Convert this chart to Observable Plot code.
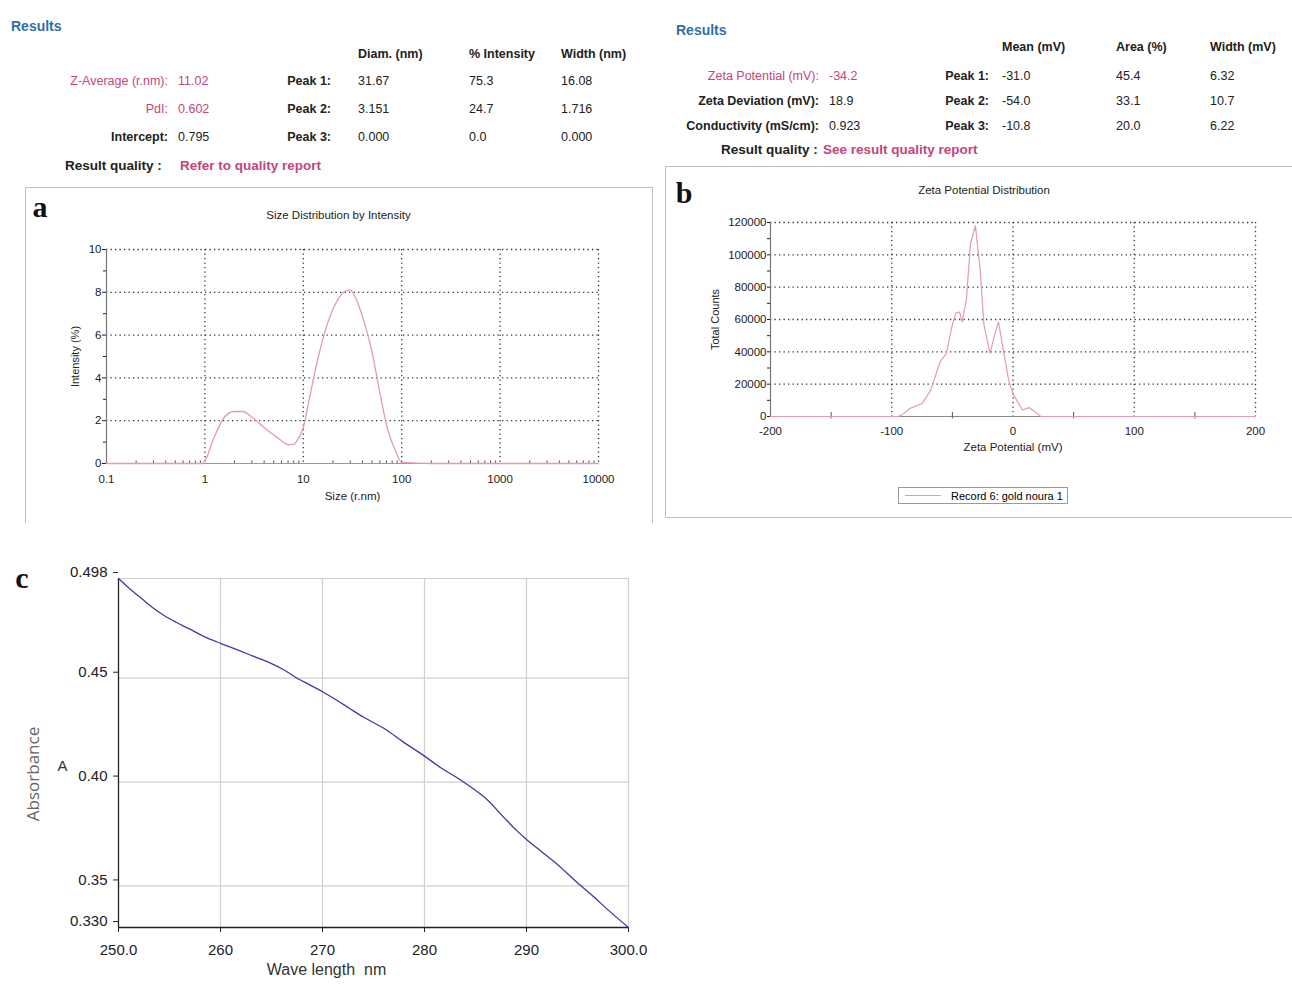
<!DOCTYPE html>
<html>
<head>
<meta charset="utf-8">
<script src="https://cdn.jsdelivr.net/npm/d3@7"></script>
<script src="https://cdn.jsdelivr.net/npm/@observablehq/plot@0.6"></script>
<style>
  html, body { margin: 0; padding: 0; background: #fff; }
  #page { position: relative; width: 1292px; height: 985px; overflow: hidden; font-family: "Liberation Sans", Arial, sans-serif; }
  .t { position: absolute; white-space: nowrap; font-size: 12.5px; color: #222; transform: translateY(-50%); line-height: 1; }
  .r { transform: translate(-100%, -50%); }
  .b { font-weight: bold; }
  .pk { color: #c2467c; }
  .hd { color: #2f6fa8; font-weight: bold; font-size: 14px; }
  .rq { font-size: 13.5px; font-weight: bold; }
  .lt { position: absolute; font-family: "Liberation Serif", "Times New Roman", serif; font-weight: bold; font-size: 30px; line-height: 1; transform: translate(-50%, -50%); color: #111; }
  .box { position: absolute; border-color: #b9c0cc; border-style: solid; border-width: 0; }
  .plot { position: absolute; }
</style>
</head>
<body>
<div id="page"></div>
<script>
// ---------- data ----------
// Panel a: size distribution by intensity
const sizeNm    = [0.1, 0.5, 0.95, 1.0, 1.24, 1.57, 1.98, 2.41, 3.04, 3.99, 5.45, 7.14, 8.0, 9.0, 10, 11.4, 13.9, 17.5, 22, 26.8, 30.1, 35, 41, 50, 60, 72, 88, 100, 200, 1000, 10000];
const intensity = [0, 0, 0, 0.12, 1.21, 2.15, 2.43, 2.43, 2.15, 1.68, 1.21, 0.87, 0.9, 1.21, 1.68, 2.92, 4.79, 6.5, 7.59, 8.06, 8.1, 7.6, 6.7, 5.2, 3.3, 1.6, 0.5, 0.05, 0, 0, 0];
const sizeTicks = [0.1, 1, 10, 100, 1000, 10000];
const intensityTicks = [0, 2, 4, 6, 8, 10];
const intensityMinor = [1, 3, 5, 7, 9];

// Panel b: zeta potential distribution
const zetaMv = [-200, -95, -91.7, -85, -75, -68, -60, -55, -50, -47, -44, -42, -38.5, -35, -31, -27, -24, -19, -15, -12, -7, -3.6, 0, 4.6, 8, 13, 18, 23, 200];
const totalCounts = [0, 0, 1000, 5000, 8000, 16000, 34000, 39000, 57000, 64000, 64600, 58500, 72000, 107000, 118000, 90000, 57000, 39000, 51000, 58500, 37000, 22500, 14000, 8000, 4000, 5500, 3000, 0, 0];
const zetaTicks = [-200, -100, 0, 100, 200];
const zetaMinor = [-150, -50, 50, 150];
const countTicks = [0, 20000, 40000, 60000, 80000, 100000, 120000];
const countMinor = [10000, 30000, 50000, 70000, 90000, 110000];

// Panel c: absorbance spectrum
const wavelength = [250, 251.1, 252.3, 253.3, 254.4, 255.7, 257, 258.3, 260, 261.6, 263.2, 264.9, 266.2, 267.5, 268.8, 270, 271.4, 272.7, 274, 276.2, 277.8, 280, 281.6, 283.2, 284.4, 286.1, 287.8, 289.1, 290, 291.6, 293.2, 294.8, 296.5, 298.1, 300];
const absorbance = [0.498, 0.4931, 0.4882, 0.4842, 0.4804, 0.4768, 0.4736, 0.4703, 0.4668, 0.4638, 0.4606, 0.4573, 0.4541, 0.4500, 0.4467, 0.4435, 0.4394, 0.4353, 0.4313, 0.4253, 0.4197, 0.4125, 0.4069, 0.4021, 0.3981, 0.3917, 0.3829, 0.3764, 0.3724, 0.3660, 0.3596, 0.3524, 0.3452, 0.3380, 0.330];
const wlTicks = [250, 260, 270, 280, 290, 300];
const wlLabels = ["250.0", "260", "270", "280", "290", "300.0"];
const absTicks = [0.330, 0.35, 0.40, 0.45, 0.498];
const absLabels = ["0.330", "0.35", "0.40", "0.45", "0.498"];

// Results tables
const sizeHeaders = ["Diam. (nm)", "% Intensity", "Width (nm)"];
const sizeRowLabels = ["Z-Average (r.nm):", "PdI:", "Intercept:"];
const sizeRowValues = ["11.02", "0.602", "0.795"];
const sizePeakNames = ["Peak 1:", "Peak 2:", "Peak 3:"];
const sizePeaks = [["31.67", "75.3", "16.08"], ["3.151", "24.7", "1.716"], ["0.000", "0.0", "0.000"]];
const zetaHeaders = ["Mean (mV)", "Area (%)", "Width (mV)"];
const zetaRowLabels = ["Zeta Potential (mV):", "Zeta Deviation (mV):", "Conductivity (mS/cm):"];
const zetaRowValues = ["-34.2", "18.9", "0.923"];
const zetaPeaks = [["-31.0", "45.4", "6.32"], ["-54.0", "33.1", "10.7"], ["-10.8", "20.0", "6.22"]];

// ---------- helpers ----------
const page = document.getElementById("page");
function txt(x, y, s, cls) {
  const d = document.createElement("div");
  d.className = "t " + (cls || "");
  d.style.left = x + "px"; d.style.top = y + "px";
  d.textContent = s;
  page.appendChild(d);
  return d;
}
function box(l, t, w, h, sides) {
  const d = document.createElement("div");
  d.className = "box";
  d.style.left = l + "px"; d.style.top = t + "px"; d.style.width = w + "px"; d.style.height = h + "px";
  for (const s of sides) d.style["border" + s + "Width"] = "1.5px";
  page.appendChild(d);
}
function letter(x, y, s) {
  const d = document.createElement("div");
  d.className = "lt"; d.style.left = x + "px"; d.style.top = y + "px"; d.textContent = s;
  page.appendChild(d);
}
function place(svg, left, top) {
  svg.classList.add("plot");
  svg.style.left = left + "px"; svg.style.top = top + "px";
  page.appendChild(svg);
}

// ---------- results tables ----------
txt(11, 26, "Results", "hd");
const colA = [358, 469, 561];
sizeHeaders.forEach((h, i) => txt(colA[i], 54, h, "b"));
const rowYA = [81, 109, 137];
sizeRowLabels.forEach((l, i) => {
  const pink = i < 2;
  txt(168, rowYA[i], l, "r " + (pink ? "pk" : "b"));
  txt(178, rowYA[i], sizeRowValues[i], pink ? "pk" : "");
  txt(331, rowYA[i], sizePeakNames[i], "r b");
  sizePeaks[i].forEach((v, j) => txt(colA[j], rowYA[i], v, ""));
});
txt(65, 166, "Result quality :", "rq");
txt(180, 166, "Refer to quality report", "rq pk");

txt(676, 30, "Results", "hd");
const colB = [1002, 1116, 1210];
zetaHeaders.forEach((h, i) => txt(colB[i], 47, h, "b"));
const rowYB = [76, 101, 126];
zetaRowLabels.forEach((l, i) => {
  const pink = i === 0;
  txt(819, rowYB[i], l, "r " + (pink ? "pk" : "b"));
  txt(829, rowYB[i], zetaRowValues[i], pink ? "pk" : "");
  txt(989, rowYB[i], sizePeakNames[i], "r b");
  zetaPeaks[i].forEach((v, j) => txt(colB[j], rowYB[i], v, ""));
});
txt(721, 150, "Result quality :", "rq");
txt(823, 150, "See result quality report", "rq pk");

// frames
box(25, 187, 626, 335, ["Top", "Left", "Right"]);
box(665, 166, 640, 350, ["Top", "Left", "Bottom"]);

const baseStyle = { fontFamily: "Liberation Sans, Arial, sans-serif", fontSize: "11.5px", background: "transparent", overflow: "visible", color: "#222" };
const dotted = { stroke: "#333", strokeWidth: 1.3, strokeDasharray: "1.3,3.2" };
const pinkLine = "#e49bb2";

// ---------- panel a ----------
const plotA = Plot.plot({
  width: 626, height: 332,
  marginLeft: 81, marginRight: 53, marginTop: 61, marginBottom: 57,
  style: baseStyle,
  x: { type: "log", domain: [0.1, 10000] },
  y: { domain: [0, 10] },
  marks: [
    Plot.ruleX(sizeTicks.slice(1), { x: d => d, ...dotted }),
    Plot.ruleY(intensityTicks.slice(1), { y: d => d, ...dotted }),
    Plot.ruleX([0.1], { stroke: "#777", strokeWidth: 1.2 }),
    Plot.ruleY([0], { stroke: "#999", strokeWidth: 1.2 }),
    Plot.ruleX(d3.range(-1, 4).flatMap(e => d3.range(2, 10).map(m => m * Math.pow(10, e))), { x: d => d, y1: 0, y2: 0.12, stroke: "#555" }),
    Plot.axisX(sizeTicks, { tickFormat: d => String(d), tickSize: 0, tickPadding: 11, label: null }),
    Plot.axisY(intensityTicks, { tickSize: 4, tickPadding: 1, label: null }),
    Plot.axisY(intensityMinor, { tickSize: 3, tickFormat: () => "", label: null }),
    Plot.line(sizeNm.map((s, i) => ({ s, v: intensity[i] })), { x: "s", y: "v", stroke: pinkLine, strokeWidth: 1.3, curve: "monotone-x" }),
    Plot.text(["Size Distribution by Intensity"], { frameAnchor: "top", dy: -39, dx: -14, fontSize: 11.5 }),
    Plot.text(["Size (r.nm)"], { frameAnchor: "bottom", dy: 36, fontSize: 11.5 }),
    Plot.text(["Intensity (%)"], { frameAnchor: "left", textAnchor: "middle", dx: -31, rotate: -90, fontSize: 11 })
  ]
});
place(plotA, 25, 188);

// ---------- panel b ----------
const plotB = Plot.plot({
  width: 627, height: 350,
  marginLeft: 105, marginRight: 37, marginTop: 55, marginBottom: 101,
  style: baseStyle,
  x: { domain: [-200, 200] },
  y: { domain: [0, 120000] },
  marks: [
    Plot.ruleX(zetaTicks.slice(1), { x: d => d, ...dotted }),
    Plot.ruleY(countTicks.slice(1), { y: d => d, ...dotted }),
    Plot.ruleX([-200], { stroke: "#777", strokeWidth: 1.2 }),
    Plot.ruleY([0], { stroke: "#888", strokeWidth: 1.2 }),
    Plot.ruleX(zetaMinor, { x: d => d, y1: -1500, y2: 2500, stroke: "#555" }),
    Plot.axisX(zetaTicks, { tickFormat: d => String(d), tickSize: 0, tickPadding: 10, label: null }),
    Plot.axisY(countTicks, { tickFormat: d => String(d), tickSize: 3, tickPadding: 1, label: null }),
    Plot.axisY(countMinor, { tickSize: 3, tickFormat: () => "", label: null }),
    Plot.line(zetaMv.map((z, i) => ({ z, c: totalCounts[i] })), { x: "z", y: "c", stroke: pinkLine, strokeWidth: 1.2 }),
    Plot.text(["Zeta Potential Distribution"], { frameAnchor: "top", dy: -37, dx: -29, fontSize: 11.5 }),
    Plot.text(["Zeta Potential (mV)"], { frameAnchor: "bottom", dy: 34, fontSize: 11.5 }),
    Plot.text(["Total Counts"], { frameAnchor: "left", textAnchor: "middle", dx: -55, rotate: -90, fontSize: 11 })
  ]
});
place(plotB, 665, 167);

// legend for b
(function () {
  const d = document.createElement("div");
  d.style.cssText = "position:absolute;left:898px;top:487px;width:170px;height:17px;border:1px solid #999;box-sizing:border-box;font-size:11px;";
  d.innerHTML = '<div style="position:absolute;left:6px;top:7px;width:36px;height:0;border-top:1.3px solid ' + pinkLine + '"></div>' +
                '<div style="position:absolute;left:52px;top:2px;white-space:nowrap;">Record 6: gold noura 1</div>';
  page.appendChild(d);
})();

// ---------- panel c ----------
const plotC = Plot.plot({
  width: 660, height: 425,
  marginLeft: 118, marginRight: 32, marginTop: 18, marginBottom: 58,
  style: { ...baseStyle, fontSize: "15px", fontFamily: "Liberation Sans Narrow, Liberation Sans, Arial, sans-serif" },
  x: { domain: [250, 300] },
  y: { domain: [0.330, 0.498] },
  marks: [
    Plot.ruleX(wlTicks.slice(1), { x: d => d, stroke: "#cfcfcf", strokeWidth: 1.2 }),
    Plot.ruleY(absTicks.slice(1), { y: d => d, stroke: "#cfcfcf", strokeWidth: 1.2 }),
    Plot.ruleX([250], { stroke: "#222", strokeWidth: 1.3 }),
    Plot.ruleY([0.330], { stroke: "#222", strokeWidth: 1.3 }),
    Plot.axisX(wlTicks, { tickFormat: (d, i) => wlLabels[i], tickSize: 5, tickPadding: 12, label: null, stroke: "#222" }),
    Plot.axisY(absTicks, { tickFormat: (d, i) => absLabels[i], tickSize: 5, tickPadding: 6, dy: -6, label: null, stroke: "#222" }),
    Plot.line(wavelength.map((w, i) => ({ w, a: absorbance[i] })), { x: "w", y: "a", stroke: "#3a3aa8", strokeWidth: 1.3, curve: "monotone-x" }),
    Plot.text(["Wave length  nm"], { frameAnchor: "bottom", dy: 47, dx: -47, fontSize: 16, fill: "#333" }),
    Plot.text(["Absorbance"], { frameAnchor: "left", textAnchor: "middle", dx: -85, dy: 21, rotate: -90, fontSize: 17, fill: "#666", fontFamily: "Open Sans, Liberation Sans, sans-serif" }),
    Plot.text(["A"], { frameAnchor: "left", textAnchor: "middle", dx: -56, dy: 13, fontSize: 15, fill: "#333" })
  ]
});
place(plotC, 0, 560);

letter(40, 207, "a");
letter(684, 193, "b");
letter(22, 578, "c");
</script>
</body>
</html>
